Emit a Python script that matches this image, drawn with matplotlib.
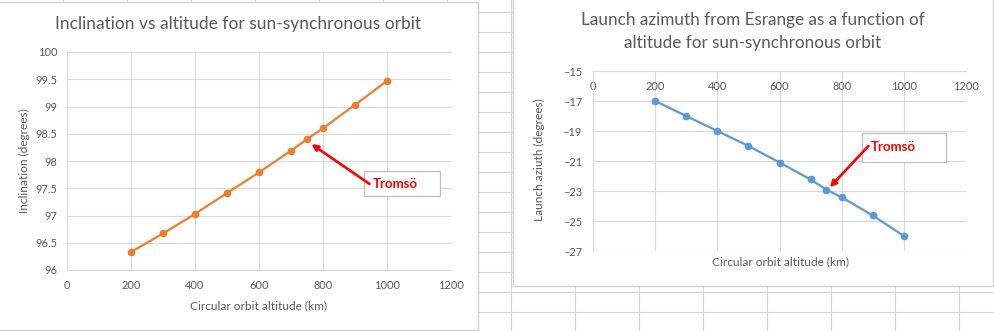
import matplotlib
matplotlib.use('Agg')
import matplotlib.pyplot as plt
from matplotlib.patches import Rectangle
from matplotlib.lines import Line2D

plt.rcParams['font.family'] = ['Lato', 'DejaVu Sans']

W, H = 994, 331

# data
altitude = [200, 300, 400, 500, 600, 700, 750, 800, 900, 1000]
inclination = [96.33, 96.67, 97.03, 97.41, 97.79, 98.19, 98.40, 98.60, 99.03, 99.47]
azimuth = [-17.0, -18.0, -19.0, -20.0, -21.1, -22.23, -22.9, -23.42, -24.63, -26.0]

x_ticks = [0, 200, 400, 600, 800, 1000, 1200]
incl_ticks = [96, 96.5, 97, 97.5, 98, 98.5, 99, 99.5, 100]
incl_labels = ['96', '96.5', '97', '97.5', '98', '98.5', '99', '99.5', '100']
az_ticks = [-27, -25, -23, -21, -19, -17, -15]

ORANGE = '#ED7D31'
BLUE = '#5B9BD5'
GRID = '#D9D9D9'
TXT = '#595959'
SHEET = '#D6D6D6'


def fx(x):
    return x / W


def fy(y):
    return 1 - y / H


fig = plt.figure(figsize=(W / 100, H / 100), dpi=100)
fig.patch.set_facecolor('white')

# spreadsheet cells behind the charts
for cx in range(-1, W, 64):
    fig.add_artist(Line2D([fx(cx), fx(cx)], [0, 1], color=SHEET, lw=0.8, zorder=0))
for ry in range(12, H, 20):
    fig.add_artist(Line2D([0, 1], [fy(ry), fy(ry)], color=SHEET, lw=0.8, zorder=0))

# chart areas
fig.add_artist(Rectangle((fx(-5), fy(330)), fx(483), (328) / H, facecolor='white',
                         edgecolor='#CFCFCF', lw=0.9, zorder=1))
fig.add_artist(Rectangle((fx(513), fy(286)), fx(480), 296 / H, facecolor='white',
                         edgecolor='#CFCFCF', lw=0.9, zorder=1))


def style(ax):
    ax.set_facecolor('white')
    for s in ax.spines.values():
        s.set_color(GRID)
        s.set_linewidth(0.8)
    ax.spines['top'].set_visible(False)
    ax.spines['right'].set_visible(False)
    ax.grid(True, color=GRID, lw=0.8)
    ax.set_axisbelow(True)
    ax.tick_params(length=0, labelsize=7.9, labelcolor=TXT)


# left chart
ax1 = fig.add_axes([fx(67), fy(270), (451 - 67) / W, (270 - 52) / H], zorder=2)
style(ax1)
ax1.plot(altitude, inclination, color=ORANGE, lw=1.6, marker='o', ms=4.5, zorder=3)
ax1.set_xlim(0, 1200)
ax1.set_ylim(96, 100)
ax1.set_xticks(x_ticks)
ax1.set_yticks(incl_ticks)
ax1.set_yticklabels(incl_labels)
ax1.tick_params(axis='y', pad=7)
ax1.tick_params(axis='x', pad=7)
ax1.set_xlabel('Circular orbit altitude (km)', fontsize=8.6, color=TXT)
ax1.xaxis.set_label_coords(fx(259), fy(306), transform=fig.transFigure)
ax1.set_ylabel('Inclination (degrees)', fontsize=8.6, color=TXT)
ax1.yaxis.set_label_coords(fx(24), fy(161), transform=fig.transFigure)
for lbl in (ax1.xaxis.label, ax1.yaxis.label):
    lbl.set_verticalalignment('center')
fig.text(fx(238), fy(24), 'Inclination vs altitude for sun-synchronous orbit',
         fontsize=12.5, color=TXT, ha='center', va='center')

ax1.add_patch(Rectangle((929, 97.35), 237, 0.47, facecolor='white',
                        edgecolor='#BFBFBF', lw=0.9, zorder=4, clip_on=False))
ax1.text(955, 97.57, 'Tromsö', color='#FF0000', fontsize=9.5, fontweight='bold',
         va='center', ha='left', zorder=5)
ax1.annotate('', xy=(764, 98.31), xytext=(945, 97.58), zorder=5,
             arrowprops=dict(arrowstyle='-|>', color='#FF0000', lw=1.9,
                             mutation_scale=9, shrinkA=0, shrinkB=0))

# right chart
ax2 = fig.add_axes([fx(593), fy(251), (966 - 593) / W, (251 - 71) / H], zorder=2)
style(ax2)
ax2.plot(altitude, azimuth, color=BLUE, lw=1.6, marker='o', ms=4.5, zorder=3)
ax2.set_xlim(0, 1200)
ax2.set_ylim(-27, -15)
ax2.set_xticks(x_ticks)
ax2.set_yticks(az_ticks)
ax2.spines['bottom'].set_position(('data', -15))
ax2.tick_params(axis='y', pad=8)
ax2.tick_params(axis='x', pad=7.5)
ax2.set_xlabel('Circular orbit altitude (km)', fontsize=8.6, color=TXT)
ax2.xaxis.set_label_coords(fx(780), fy(262), transform=fig.transFigure)
ax2.set_ylabel('Launch aziuth (degrees)', fontsize=8.6, color=TXT)
ax2.yaxis.set_label_coords(fx(539), fy(160), transform=fig.transFigure)
for lbl in (ax2.xaxis.label, ax2.yaxis.label):
    lbl.set_verticalalignment('center')
fig.text(fx(753), fy(20), 'Launch azimuth from Esrange as a function of',
         fontsize=12.3, color=TXT, ha='center', va='center')
fig.text(fx(753), fy(43), 'altitude for sun-synchronous orbit',
         fontsize=12.3, color=TXT, ha='center', va='center')

ax2.add_patch(Rectangle((864, -21.04), 273, 1.91, facecolor='white',
                        edgecolor='#BFBFBF', lw=0.9, zorder=4, clip_on=False))
ax2.text(892, -20.05, 'Tromsö', color='#FF0000', fontsize=9.5, fontweight='bold',
         va='center', ha='left', zorder=5)
ax2.annotate('', xy=(762, -22.75), xytext=(886, -20.0), zorder=5,
             arrowprops=dict(arrowstyle='-|>', color='#FF0000', lw=1.9,
                             mutation_scale=9, shrinkA=0, shrinkB=0))

plt.savefig('out.png', dpi=100, facecolor='white')
